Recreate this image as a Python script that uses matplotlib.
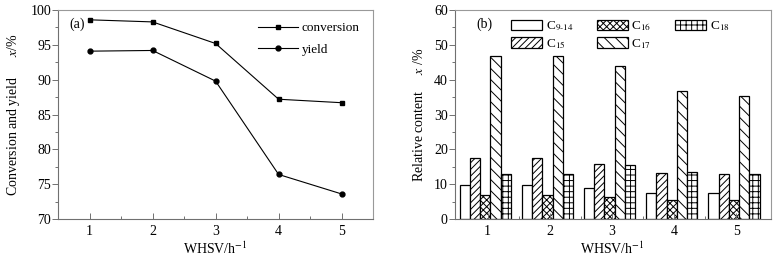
import matplotlib
matplotlib.use("Agg")
import matplotlib.pyplot as plt
import numpy as np

plt.rcParams['font.family'] = ['Liberation Serif', 'DejaVu Serif']
plt.rcParams['mathtext.fontset'] = 'stix'
plt.rcParams['hatch.linewidth'] = 0.7

whsv = [1, 2, 3, 4, 5]
conversion = [98.6, 98.3, 95.2, 87.2, 86.7]
yield_ = [94.1, 94.2, 89.8, 76.4, 73.6]

series_names = ["C$_{9\\text{-}14}$", "C$_{15}$", "C$_{16}$", "C$_{17}$", "C$_{18}$"]
c9_14 = [9.9, 9.9, 8.8, 7.6, 7.4]
c15 = [17.6, 17.6, 15.9, 13.3, 12.9]
c16 = [7.0, 7.0, 6.3, 5.5, 5.5]
c17 = [46.9, 46.9, 43.9, 36.8, 35.4]
c18 = [13.0, 13.0, 15.4, 13.6, 12.8]
bar_values = [c9_14, c15, c16, c17, c18]
hatches = ['', '/////', 'xxxxx', '\\\\\\', '+++']

fig = plt.figure(figsize=(7.8, 2.58), dpi=100)
ax1 = fig.add_axes([0.0744, 0.151, 0.404, 0.810])
ax2 = fig.add_axes([0.583, 0.151, 0.405, 0.810])

spine_col = '#707070'
fs_tick = 10
fs_lab = 10
fs_leg = 9.5

def style(ax):
    for s in ['top', 'right']:
        ax.spines[s].set_color('#999999')
        ax.spines[s].set_linewidth(0.8)
    for s in ['left', 'bottom']:
        ax.spines[s].set_color(spine_col)
        ax.spines[s].set_linewidth(0.8)
    ax.tick_params(axis='x', which='both', direction='in', top=False, colors='black', labelsize=fs_tick, pad=4)
    ax.tick_params(axis='y', which='both', direction='out', right=False, labelsize=fs_tick, pad=1)
    ax.tick_params(which='major', length=4, width=0.7, color=spine_col)
    ax.tick_params(which='minor', length=2.5, width=0.7, color=spine_col)

# Panel (a)
ax1.plot(whsv, conversion, '-s', color='black', lw=0.8, ms=3.5, label='conversion')
ax1.plot(whsv, yield_, '-o', color='black', lw=0.8, ms=3.5, label='yield')
ax1.set_xlim(0.5, 5.5)
ax1.set_ylim(70, 100)
ax1.set_xticks(whsv)
ax1.set_xticks([1.5, 2.5, 3.5, 4.5], minor=True)
ax1.set_yticks(np.arange(70, 101, 5))
ax1.set_yticks(np.arange(72.5, 100, 5), minor=True)
style(ax1)
ax1.set_xlabel('WHSV/h$^{-1}$', fontsize=fs_lab, labelpad=2)
ax1.set_ylabel('Conversion and yield      $x$/%', fontsize=fs_lab)
ax1.yaxis.set_label_coords(-0.114, 0.5)
ax1.text(0.035, 0.93, '(a)', transform=ax1.transAxes, fontsize=fs_tick, va='center')
ax1.legend(loc='upper right', bbox_to_anchor=(0.995, 1.0), frameon=False, fontsize=fs_leg,
           handlelength=3.0, handletextpad=0.3, labelspacing=0.7)

# Panel (b)
n = len(bar_values)
w = 0.165
x = np.array(whsv, dtype=float)
for i, (vals, name, h) in enumerate(zip(bar_values, series_names, hatches)):
    ax2.bar(x + (i - (n - 1) / 2) * w - 0.04, vals, width=w, facecolor='white', edgecolor='black',
            linewidth=0.9, hatch=h, label=name)
ax2.set_xlim(0.47, 5.55)
ax2.set_ylim(0, 60)
ax2.set_xticks(whsv)
ax2.set_xticks([1.5, 2.5, 3.5, 4.5], minor=True)
ax2.set_yticks(np.arange(0, 61, 10))
ax2.set_yticks(np.arange(5, 60, 10), minor=True)
style(ax2)
ax2.set_xlabel('WHSV/h$^{-1}$', fontsize=fs_lab, labelpad=2)
ax2.set_ylabel('Relative content     $x$ /%', fontsize=fs_lab)
ax2.yaxis.set_label_coords(-0.092, 0.5)
ax2.text(0.07, 0.93, '(b)', transform=ax2.transAxes, fontsize=fs_tick, va='center')
ax2.legend(loc='upper left', bbox_to_anchor=(0.15, 1.0), ncol=3, frameon=False, fontsize=fs_leg,
           handlelength=2.3, handleheight=0.8, handletextpad=0.3, labelspacing=0.3,
           columnspacing=1.8, borderaxespad=0.3)

fig.savefig('out.png', dpi=100)
